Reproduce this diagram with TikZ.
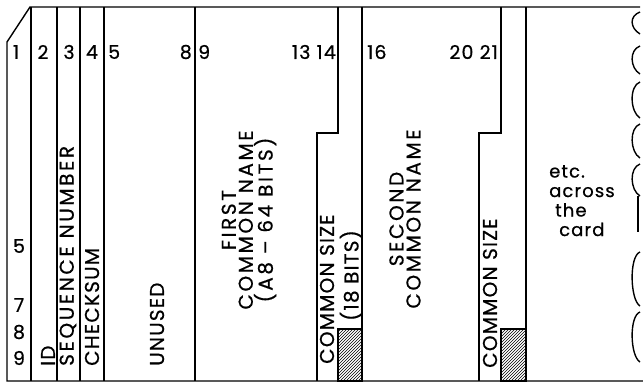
\documentclass[tikz,border=0pt]{standalone}
\usepackage{fontspec}
\setmainfont{Poppins}[LetterSpace=6, FakeBold=0.6]
\usetikzlibrary{patterns}

\begin{document}
\begin{tikzpicture}[x=1pt, y=-1pt, font=\fontsize{19}{17}\selectfont,
  cardline/.style={line width=1.4pt},
  num/.style={inner sep=0pt},
  field/.style={inner sep=0pt, rotate=90, anchor=west, font=\fontsize{20}{17}\selectfont},
  widefield/.style={font=\fontsize{20}{17}\selectfont\addfontfeature{LetterSpace=13}}]
\useasboundingbox (0,0) rectangle (643,385);
% card outline and columns
\draw[cardline] (643,381) -- (7,381) -- (7,42) -- (30,7) -- (640,7);
\foreach \x in {31,57,80,104,195,362,526}
  \draw[cardline] (\x,7) -- (\x,381);
\draw[cardline] (338,7) -- (338,133) -- (317,133) -- (317,381);
\draw[cardline] (501,7) -- (501,133) -- (479,133) -- (479,381);
\draw[cardline, pattern=north east lines] (338,329) rectangle (362,381);
\draw[cardline, pattern=north east lines] (501,329) rectangle (526,381);
% torn edge
\foreach \a/\b in {12/34, 46/74, 82/118, 124/158, 164/196, 252/306, 312/362}
  \draw[cardline] (640,\a) .. controls (629,\a+4) and (630,\b-6) .. (640,\b);
\draw[cardline] (638,196) -- (638,232);
% column numbers
\node[num] (c1) at (16,52) {1};
\node[num] (c2) at (43,52) {2};
\node[num] (c3) at (69,52) {3};
\node[num] (c4) at (92,52) {4};
\node[num, anchor=west] (c5) at (108,52) {5};
\node[num, anchor=east] (c8) at (192,52) {8};
\node[num, anchor=west] (c9) at (198,52) {9};
\node[num, anchor=east] (c14) at (336,52) {13 14};
\node[num, anchor=west] (c16) at (367,52) {16};
\node[num, anchor=east] (c21) at (498,52) {20 21};
% row numbers
\node[num] (r5) at (19,246) {5};
\node[num] (r7) at (19,305) {7};
\node[num] (r8) at (19,332) {8};
\node[num] (r9) at (19,358) {9};
% fields
\node[field] (id) at (48,366) {ID};
\node[field, widefield] (seq) at (68,366) {SEQUENCE NUMBER};
\node[field] (chk) at (92,366) {CHECKSUM};
\node[field] (unused) at (157,366) {UNUSED};
\node[num, rotate=90, align=center, widefield] (name1) at (249,220) {FIRST\\COMMON NAME\\(A8 -- 64 BITS)};
\node[field] (size1) at (327,364) {COMMON SIZE};
\node[num, rotate=90, anchor=east, font=\fontsize{20}{17}\selectfont] (bits1) at (351,230) {(18 BITS)};
\node[num, rotate=90, align=center, widefield] (name2) at (405,219) {SECOND\\COMMON NAME};
\node[field] (size2) at (490,368) {COMMON SIZE};
\node[num, anchor=north west, align=left, font=\fontsize{18}{19.5}\selectfont] (etc) at (549,165) {etc.\\across\\\hspace*{6pt}the\\\hspace*{10pt}card};
\end{tikzpicture}
\end{document}
